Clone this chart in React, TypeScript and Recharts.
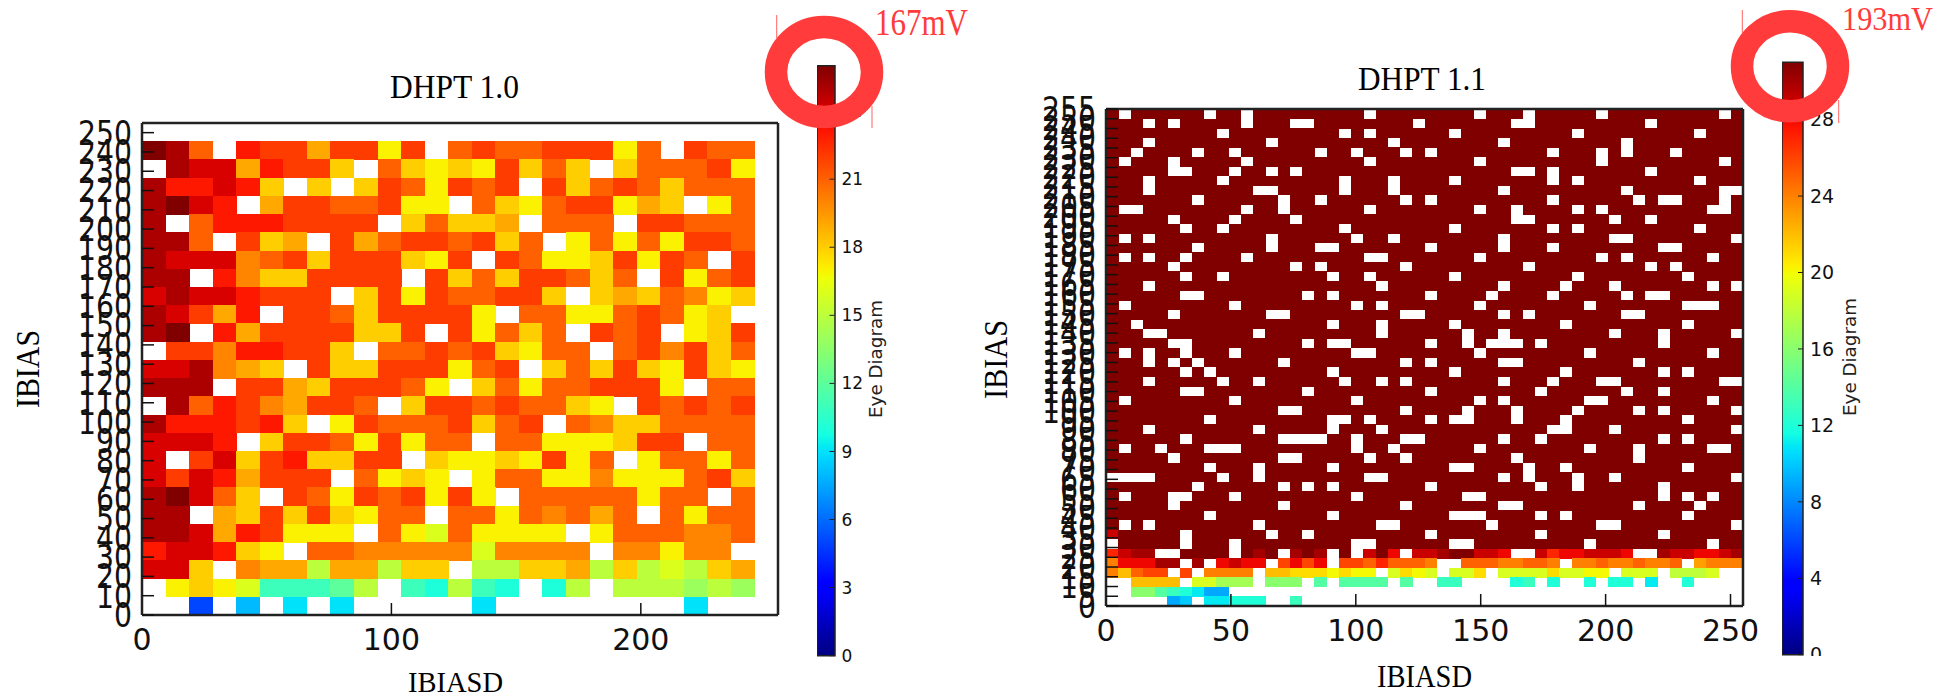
import { ScatterChart, Scatter, BarChart, Bar, XAxis, YAxis } from "recharts";

// bin contents, top row first, 0 = empty bin (drawn white)
const LEFT_ROWS = [
  [26,25,21,0,23,22,22,19,22,22,17,22,0,21,22,21,21,22,22,22,17,21,0,22,21,21],
  [0,25,24,24,19,23,22,22,18,0,21,18,17,18,17,22,18,21,18,0,18,21,21,21,22,17],
  [25,23,23,24,23,18,0,18,0,18,22,21,17,22,21,22,0,22,18,21,22,21,18,21,21,21],
  [25,26,24,23,0,19,22,22,21,21,22,17,17,0,21,18,17,21,22,22,17,19,18,0,17,21],
  [25,0,21,23,23,23,22,22,22,22,0,18,21,18,18,19,0,21,21,21,0,22,22,21,21,21],
  [25,25,21,0,22,18,19,0,22,19,21,22,22,21,22,18,21,0,17,21,17,21,17,22,22,21],
  [25,24,24,24,20,21,22,18,22,22,22,18,17,22,0,22,21,17,17,18,22,17,22,21,0,22],
  [25,25,0,23,20,18,18,22,22,22,22,0,22,18,21,18,22,22,21,18,21,0,22,17,21,22],
  [24,25,24,24,23,22,22,22,0,18,22,17,22,21,21,22,22,18,0,18,19,18,21,20,17,18],
  [25,24,22,19,23,0,22,22,21,18,22,22,22,22,17,0,21,21,17,17,21,22,21,17,18,0],
  [25,26,0,23,19,22,22,22,22,18,18,22,0,22,17,21,18,21,0,22,21,22,0,17,18,22],
  [0,22,22,20,23,23,22,22,18,0,21,21,22,21,22,18,17,21,21,0,21,22,20,22,18,21],
  [24,24,25,20,19,18,0,22,18,18,22,22,22,17,21,22,0,18,21,18,22,18,17,22,18,17],
  [25,25,25,0,22,22,19,18,22,22,22,21,17,0,18,21,17,21,21,22,22,22,17,0,21,21],
  [0,25,21,23,22,20,19,22,22,21,0,18,22,22,21,22,21,21,18,17,0,22,21,22,21,22],
  [25,23,23,23,22,23,18,0,17,22,21,21,21,22,18,21,22,0,21,20,18,18,21,21,21,21],
  [24,24,24,23,0,18,22,22,21,17,22,17,21,21,0,21,21,17,17,17,18,22,22,0,21,21],
  [24,0,22,24,18,22,23,18,18,22,22,0,18,17,17,18,17,22,17,21,0,17,21,21,17,21],
  [24,22,24,23,19,22,22,22,0,21,17,18,17,0,17,21,21,17,17,20,17,17,17,21,22,18],
  [25,26,24,21,18,0,22,21,17,22,21,22,17,22,17,0,21,21,21,21,21,17,21,21,0,21],
  [25,25,0,19,18,22,18,22,18,17,21,21,0,21,21,17,21,20,21,19,21,0,21,17,21,21],
  [25,25,24,19,23,22,17,17,17,0,21,17,16,21,17,17,17,17,0,17,21,21,21,20,20,21],
  [23,24,24,23,18,17,0,21,21,20,20,20,20,20,16,20,20,20,20,0,20,20,17,20,20,0],
  [24,24,18,0,20,19,19,15,19,19,15,18,18,0,15,15,18,18,19,15,18,15,16,15,18,19],
  [0,17,18,17,16,11,11,11,12,15,0,11,10,15,11,10,0,10,15,0,15,15,15,14,15,14],
  [0,0,5,0,8,0,9,0,9,0,0,0,0,0,9,0,0,0,0,0,0,0,0,9,0,0],
];

// DHPT 1.1 is saturated above the low rows, so only its empty columns are listed
const RIGHT_SATURATED = 31;
const RIGHT_EMPTY = [
  [1,8,11,21,30,34,40,50],
  [3,5,11,15,16,25,33,34,44],
  [9,19,21,28,38,48],
  [3,13,23,32,42],
  [2,7,10,17,20,24,26,36,40,42,46],
  [1,5,11,21,30,40,50],
  [5,6,10,13,15,33,34,36,44],
  [3,9,19,23,28,36,38,48],
  [3,12,13,19,23,32,42,50,51],
  [7,14,17,24,26,36,43,45,46,50],
  [1,2,11,14,21,30,33,38,40,49,50],
  [5,10,15,33,34,41,44],
  [6,9,19,28,36,38,48],
  [1,3,13,20,23,32,41,42,51],
  [7,13,17,18,26,32,36,45,46],
  [1,3,6,11,21,22,30,40,42,49],
  [5,15,17,24,34,44,46],
  [6,9,18,21,28,38,47],
  [3,22,32,37,41,49,51],
  [6,7,16,18,26,31,36,42,44,45],
  [1,10,20,22,30,39,47,48,49],
  [5,13,14,24,25,32,34,42,43],
  [2,18,22,28,37,47],
  [3,4,12,22,29,32,41,45,51],
  [5,6,16,18,19,26,29,31,32,33,35,45],
  [1,3,6,10,20,21,30,39,49],
  [3,5,7,14,24,26,32,33,43],
  [6,8,18,28,37,45,47],
  [3,9,12,19,22,24,32,36,40,41,50,51],
  [6,7,16,26,35,42,45],
  [1,10,20,30,32,39,40,49],
  [14,15,24,29,33,38,43,45,51],
  [8,18,19,21,26,28,29,33,37,47],
  [3,12,18,22,36,37,41,51],
  [6,14,15,16,17,20,24,25,32,35,45,47],
  [1,4,8,9,10,20,23,30,39,43,49,50],
  [5,14,15,21,24,33,43],
  [8,12,18,28,29,34,37,47],
  [0,1,2,3,9,12,21,22,32,34,38,41,51],
  [7,14,16,18,26,35,38,45],
  [1,5,6,10,20,29,30,45,47,49],
  [5,14,24,32,33,43,48],
  [8,18,28,29,30,35,37,47],
  [1,3,12,22,23,31,40,41,51],
  [6,13,16,26,35,45],
  [0,6,10,20,21,28,29,39,49],
];
const RIGHT_LOW_ROWS = [
  [27,29,30,30,0,0,31,31,31,31,0,31,30,31,0,30,31,30,0,31,0,29,31,28,0,29,29,30,31,31,29,29,28,0,0,29,27,28,28,29,29,29,28,0,0,30,29,29,28,28,29,30],
  [24,28,28,28,30,30,0,30,0,28,29,28,28,0,26,28,26,28,0,26,26,25,27,25,25,25,24,0,0,25,25,25,24,24,25,25,24,0,24,24,25,24,24,25,24,24,25,0,23,24,24,24],
  [24,22,25,26,26,0,26,0,24,24,24,24,0,22,22,21,21,21,20,21,20,20,0,19,21,20,19,0,19,19,21,0,19,19,19,19,21,19,19,20,20,0,19,19,19,0,18,18,18,19,0,0],
  [0,0,22,22,22,22,0,19,19,17,17,17,0,16,16,16,0,14,0,14,14,14,14,0,14,0,0,13,13,0,0,0,0,12,13,0,12,0,0,12,0,12,12,0,11,0,0,12,0,0,0,0],
  [0,0,16,16,14,13,12,11,9,9,0,0,0,0,0,0,0,0,0,0,0,0,0,0,0,0,0,0,0,0,0,0,0,0,0,0,0,0,0,0,0,0,0,0,0,0,0,0,0,0,0,0],
  [0,0,0,0,0,9,10,0,11,11,12,12,12,0,0,13,0,0,0,0,0,0,0,0,0,0,0,0,0,0,0,0,0,0,0,0,0,0,0,0,0,0,0,0,0,0,0,0,0,0,0,0],
];

const LEFT_X_TICKS = [0, 100, 200];
const RIGHT_X_TICKS = [0, 50, 100, 150, 200, 250];
const LEFT_Y_TICKS = [0,10,20,30,40,50,60,70,80,90,100,110,120,130,140,150,160,170,180,190,200,210,220,230,240,250];
const RIGHT_Y_TICKS = [0,5,10,15,20,25,30,35,40,45,50,55,60,65,70,75,80,85,90,95,100,105,110,115,120,125,130,135,140,145,150,155,160,165,170,175,180,185,190,195,200,205,210,215,220,225,230,235,240,245,250,255];
const LEFT_BAR_TICKS = [0, 3, 6, 9, 12, 15, 18, 21, 24];
const RIGHT_BAR_TICKS = [0, 4, 8, 12, 16, 20, 24, 28];
const LEFT_VMAX = 26;
const RIGHT_VMAX = 31;
const AXIS_MAX = 255;

// matplotlib jet
const lerp = (v: number, pts: number[][]) => {
  for (let i = 1; i < pts.length; i++) {
    if (v <= pts[i][0]) {
      const [x0, y0] = pts[i - 1];
      const [x1, y1] = pts[i];
      return y0 + ((v - x0) / (x1 - x0)) * (y1 - y0);
    }
  }
  return pts[pts.length - 1][1];
};
const jet = (v: number) => {
  const r = lerp(v, [[0, 0], [0.35, 0], [0.66, 1], [0.89, 1], [1, 0.5]]);
  const g = lerp(v, [[0, 0], [0.125, 0], [0.375, 1], [0.64, 1], [0.91, 0], [1, 0]]);
  const b = lerp(v, [[0, 0.5], [0.11, 1], [0.34, 1], [0.65, 0], [1, 0]]);
  return `rgb(${Math.round(r * 255)},${Math.round(g * 255)},${Math.round(b * 255)})`;
};
const JET_STOPS = [0, 0.11, 0.125, 0.34, 0.35, 0.375, 0.64, 0.65, 0.66, 0.89, 0.91, 1];

const rightRows = [
  ...RIGHT_EMPTY.map((empty, t) =>
    Array.from({ length: 52 }, (_, c) => {
      if (empty.includes(c)) return 0;
      return t === 44 && c === 0 ? 29 : RIGHT_SATURATED;
    })
  ),
  ...RIGHT_LOW_ROWS,
];

function toCells(rows: number[][], bins: number) {
  const step = AXIS_MAX / bins;
  const cells: { x: number; y: number; v: number }[] = [];
  rows.forEach((row, t) => {
    row.forEach((v, c) => {
      if (v > 0) cells.push({ x: (c + 0.5) * step, y: (rows.length - t - 0.5) * step, v });
    });
  });
  return cells;
}

const FONT = "DejaVu Sans";
const TICK_LINE = { stroke: "#111", strokeWidth: 1.5 };
const FRAME = { stroke: "#222", strokeWidth: 2.5 };

// the reference's y labels are taller than they are wide
const tallTick = (p: any) => {
  const label = String(p.payload.value);
  return (
    <text x={p.x} y={p.y} dy="0.36em" textAnchor="end" fontFamily={FONT} fontSize={33} fill="#111" textLength={label.length * 18} lengthAdjust="spacingAndGlyphs">
      {label}
    </text>
  );
};

const noMark = () => <g />;

function Heatmap(props: {
  left: number; width: number; plotLeft: number; plotRight: number; plotTop: number; plotBottom: number;
  rows: number[][]; bins: number; vmax: number; xTicks: number[]; yTicks: number[]; tick: number;
}) {
  const { left, width, plotLeft, plotRight, plotTop, plotBottom, rows, bins, vmax, xTicks, yTicks, tick } = props;
  const cw = (width - plotLeft - plotRight) / bins;
  const ch = (699 - plotTop - plotBottom) / bins;
  const cells = toCells(rows, bins);
  const cell = (p: any) => (
    <rect x={p.cx - cw / 2} y={p.cy - ch / 2} width={cw + 0.4} height={ch + 0.4} fill={jet(p.payload.v / vmax)} shapeRendering="crispEdges" />
  );
  return (
    <>
      <div style={{ position: "absolute", left, top: 0 }}>
        <ScatterChart width={width} height={699} margin={{ top: plotTop, right: plotRight, bottom: plotBottom, left: plotLeft }}>
          <XAxis xAxisId="b" type="number" dataKey="x" domain={[0, AXIS_MAX]} hide />
          <YAxis yAxisId="l" type="number" dataKey="y" domain={[0, AXIS_MAX]} hide />
          <Scatter data={cells} dataKey="y" xAxisId="b" yAxisId="l" shape={cell} isAnimationActive={false} />
        </ScatterChart>
      </div>
      {/* axes sit in a second chart on top: the ticks cross the cells in the reference */}
      <div style={{ position: "absolute", left, top: 0 }}>
        <ScatterChart width={width} height={699} margin={{ top: 0, right: 0, bottom: 0, left: 0 }}>
          <XAxis xAxisId="t" orientation="top" type="number" dataKey="x" height={plotTop} domain={[0, AXIS_MAX]} ticks={xTicks} interval={0} tick={false} tickSize={-tick} tickLine={TICK_LINE} axisLine={FRAME} />
          <YAxis yAxisId="r" orientation="right" type="number" dataKey="y" width={plotRight} domain={[0, AXIS_MAX]} ticks={yTicks} interval={0} tick={false} tickSize={-tick} tickLine={TICK_LINE} axisLine={FRAME} />
          <XAxis xAxisId="b" type="number" dataKey="x" height={plotBottom} domain={[0, AXIS_MAX]} ticks={xTicks} interval={0} tickSize={-tick} tickMargin={tick + 14} tickLine={TICK_LINE} axisLine={FRAME} tick={{ fontSize: 30, fontFamily: FONT, fill: "#111" }} />
          <YAxis yAxisId="l" type="number" dataKey="y" width={plotLeft} domain={[0, AXIS_MAX]} ticks={yTicks} interval={0} tickSize={-tick} tickMargin={tick + 10} tickLine={TICK_LINE} axisLine={FRAME} tick={tallTick} />
          <Scatter data={cells.slice(0, 1)} dataKey="y" xAxisId="b" yAxisId="l" shape={noMark} isAnimationActive={false} />
        </ScatterChart>
      </div>
    </>
  );
}

function ColorBar(props: { id: string; left: number; barWidth: number; top: number; bottom: number; vmax: number; ticks: number[]; fontSize: number }) {
  const { id, left, barWidth, top, bottom, vmax, ticks, fontSize } = props;
  const axisWidth = 60;
  return (
    <div style={{ position: "absolute", left, top: 0 }}>
      <BarChart width={barWidth + axisWidth} height={699} data={[{ name: "scale", top: vmax }]} barCategoryGap={0} margin={{ top, right: 0, bottom, left: 0 }}>
        <defs>
          <linearGradient id={id} x1="0" y1="1" x2="0" y2="0">
            {JET_STOPS.map((o) => <stop key={o} offset={`${o * 100}%`} stopColor={jet(o)} />)}
          </linearGradient>
        </defs>
        <XAxis dataKey="name" hide />
        <YAxis orientation="right" type="number" width={axisWidth} domain={[0, vmax]} ticks={ticks} interval={0} axisLine={false} tickSize={-5} tickMargin={12} tickLine={{ stroke: "#222", strokeWidth: 1 }} tick={{ fontSize, fontFamily: FONT, fill: "#111" }} />
        <Bar dataKey="top" fill={`url(#${id})`} stroke="#222" strokeWidth={1.5} isAnimationActive={false} />
      </BarChart>
    </div>
  );
}

const SERIF = "Liberation Serif";
const RED = "#ff3b3b";

function Stretched({ x, y, w, size, text, fill = "#000", rotate }: { x: number; y: number; w: number; size: number; text: string; fill?: string; rotate?: boolean }) {
  return (
    <text x={x} y={y} fontFamily={SERIF} fontSize={size} fill={fill} textLength={w} lengthAdjust="spacingAndGlyphs" transform={rotate ? `rotate(-90 ${x} ${y})` : undefined}>
      {text}
    </text>
  );
}

function Ring({ cx, cy }: { cx: number; cy: number }) {
  return <ellipse cx={cx} cy={cy} rx={48} ry={45} fill="none" stroke={RED} strokeWidth={22.5} />;
}

export default function App() {
  return (
    <div style={{ position: "absolute", left: 0, top: 0, width: 1950, height: 699, background: "#fff", overflow: "hidden" }}>
      <Heatmap left={0} width={975} plotLeft={142} plotRight={197} plotTop={123} plotBottom={84} rows={LEFT_ROWS} bins={27} vmax={LEFT_VMAX} xTicks={LEFT_X_TICKS} yTicks={LEFT_Y_TICKS} tick={12} />
      <Heatmap left={975} width={975} plotLeft={131} plotRight={207} plotTop={109} plotBottom={93} rows={rightRows} bins={52} vmax={RIGHT_VMAX} xTicks={RIGHT_X_TICKS} yTicks={RIGHT_Y_TICKS} tick={12} />
      <ColorBar id="jetLeft" left={817} barWidth={17.5} top={65.7} bottom={43.3} vmax={LEFT_VMAX} ticks={LEFT_BAR_TICKS} fontSize={17} />
      <ColorBar id="jetRight" left={1782} barWidth={21} top={62.3} bottom={44.3} vmax={RIGHT_VMAX} ticks={RIGHT_BAR_TICKS} fontSize={19} />
      <svg width={1950} height={699} style={{ position: "absolute", left: 0, top: 0 }}>
        <rect x={1806} y={656} width={30} height={20} fill="#fff" />
        <Stretched x={390} y={98} w={129} size={34} text="DHPT 1.0" />
        <Stretched x={1358} y={90} w={128} size={34} text="DHPT 1.1" />
        <Stretched x={408} y={692} w={95} size={30} text="IBIASD" />
        <Stretched x={1377} y={687} w={95} size={32} text="IBIASD" />
        <Stretched x={39} y={408} w={78} size={34} text="IBIAS" rotate />
        <Stretched x={1007} y={399} w={79} size={34} text="IBIAS" rotate />
        <text x={882} y={418} fontFamily={FONT} fontSize={17} fill="#222" textLength={118} lengthAdjust="spacingAndGlyphs" transform="rotate(-90 882 418)">Eye Diagram</text>
        <text x={1856} y={416} fontFamily={FONT} fontSize={18} fill="#222" textLength={118} lengthAdjust="spacingAndGlyphs" transform="rotate(-90 1856 416)">Eye Diagram</text>
        <line x1={776.7} y1={15} x2={776.7} y2={38} stroke={RED} strokeWidth={0.8} />
        <line x1={872} y1={106} x2={872} y2={128} stroke={RED} strokeWidth={0.8} />
        <line x1={1742.3} y1={10} x2={1742.3} y2={33} stroke={RED} strokeWidth={0.8} />
        <line x1={1838.7} y1={100} x2={1838.7} y2={123} stroke={RED} strokeWidth={0.8} />
        <Ring cx={824} cy={72} />
        <Ring cx={1790} cy={66.3} />
        <Stretched x={875} y={35} w={93} size={38} text="167mV" fill={RED} />
        <Stretched x={1842} y={30} w={91} size={33.5} text="193mV" fill={RED} />
      </svg>
    </div>
  );
}
